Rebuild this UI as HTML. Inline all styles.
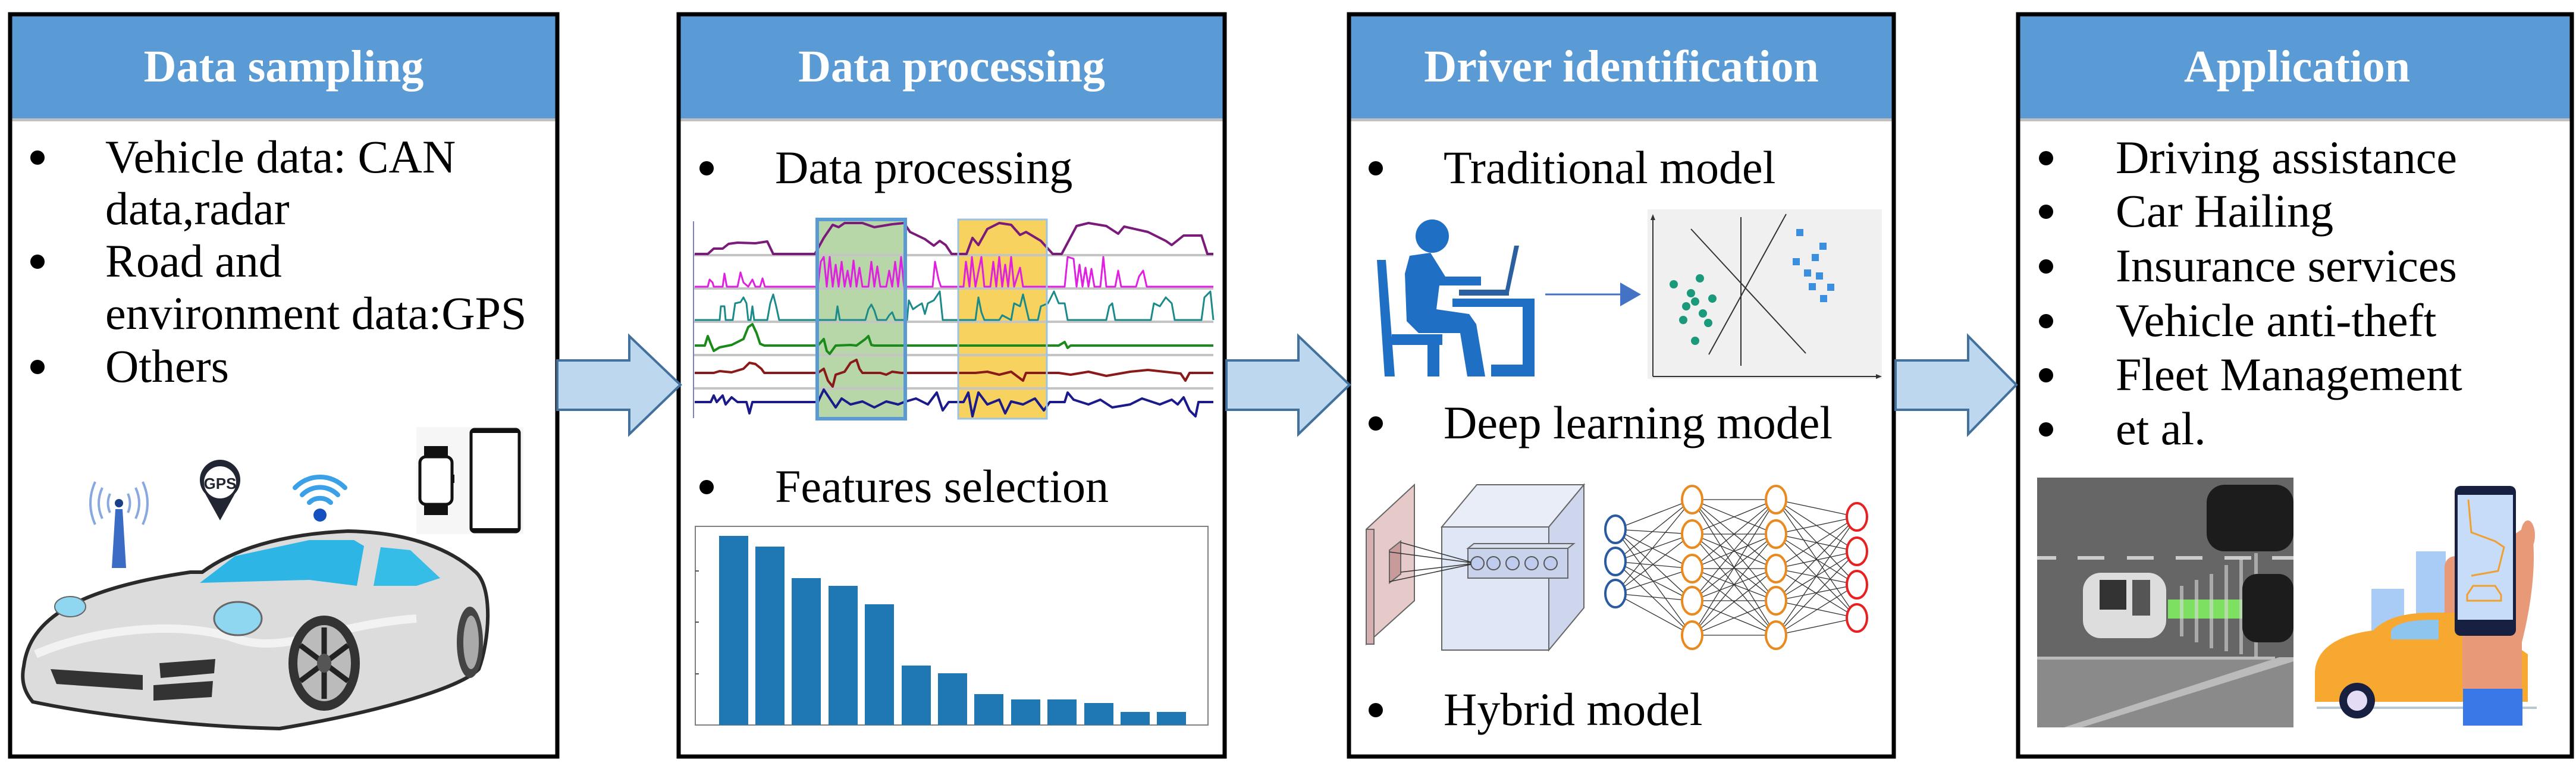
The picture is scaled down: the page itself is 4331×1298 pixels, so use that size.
<!DOCTYPE html>
<html><head><meta charset="utf-8"><style>
html,body{margin:0;padding:0;background:#fff;}
svg{display:block;}
.h{font-family:"Liberation Serif",serif;font-weight:bold;font-size:76px;fill:#fff;}
.t{font-family:"Liberation Serif",serif;font-size:78px;fill:#000;}
</style></head><body>
<svg width="4331" height="1298" viewBox="0 0 4331 1298" xmlns="http://www.w3.org/2000/svg">
<rect width="4331" height="1298" fill="#fff"/>
<!-- Boxes -->
<g>
<rect x="17" y="24" width="920" height="1248" fill="#fff"/>
<rect x="17" y="24" width="920" height="177" fill="#5b9bd5"/>
<rect x="17" y="199" width="920" height="5" fill="#c0c0c0"/>
<rect x="17" y="24" width="920" height="1248" fill="none" stroke="#000" stroke-width="7"/>
<text class="h" x="477" y="137" text-anchor="middle">Data sampling</text>

<rect x="1141" y="24" width="918" height="1248" fill="#fff"/>
<rect x="1141" y="24" width="918" height="177" fill="#5b9bd5"/>
<rect x="1141" y="199" width="918" height="5" fill="#c0c0c0"/>
<rect x="1141" y="24" width="918" height="1248" fill="none" stroke="#000" stroke-width="7"/>
<text class="h" x="1600" y="137" text-anchor="middle">Data processing</text>

<rect x="2268" y="24" width="916" height="1248" fill="#fff"/>
<rect x="2268" y="24" width="916" height="177" fill="#5b9bd5"/>
<rect x="2268" y="199" width="916" height="5" fill="#c0c0c0"/>
<rect x="2268" y="24" width="916" height="1248" fill="none" stroke="#000" stroke-width="7"/>
<text class="h" x="2726" y="137" text-anchor="middle">Driver identification</text>

<rect x="3393" y="24" width="931" height="1248" fill="#fff"/>
<rect x="3393" y="24" width="931" height="177" fill="#5b9bd5"/>
<rect x="3393" y="199" width="931" height="5" fill="#c0c0c0"/>
<rect x="3393" y="24" width="931" height="1248" fill="none" stroke="#000" stroke-width="7"/>
<text class="h" x="3862" y="137" text-anchor="middle">Application</text>
</g>

<!-- Arrows -->
<g fill="#bdd7ee" stroke="#41719c" stroke-width="4" stroke-linejoin="miter">
<polygon points="937,606 1058,606 1058,565 1144,647 1058,730 1058,689 937,689"/>
<polygon points="2062,606 2183,606 2183,565 2269,647 2183,730 2183,689 2062,689"/>
<polygon points="3187,606 3309,606 3309,565 3390,647 3309,730 3309,689 3187,689"/>
</g>

<!-- Box1 text -->
<g class="t">
<text class="t" x="177" y="290">Vehicle data: CAN</text>
<text class="t" x="177" y="377">data,radar</text>
<text class="t" x="177" y="465">Road and</text>
<text class="t" x="177" y="553">environment data:GPS</text>
<text class="t" x="177" y="642">Others</text>
</g>
<g fill="#000">
<circle cx="63" cy="265" r="12"/><circle cx="63" cy="440" r="12"/><circle cx="63" cy="617" r="12"/>
</g>

<!-- Box1 icons -->
<g>
<!-- tower -->
<polygon points="188,955 212,955 206,856 194,856" fill="#3b6cc5"/>
<circle cx="200" cy="846" r="7" fill="#1a3f8a"/>
<g fill="none" stroke="#8aa8e0" stroke-width="4">
<path d="M185,830 Q178,846 185,862"/><path d="M215,830 Q222,846 215,862"/>
<path d="M172,820 Q160,846 172,872"/><path d="M228,820 Q240,846 228,872"/>
<path d="M160,810 Q144,846 160,882"/><path d="M240,810 Q256,846 240,882"/>
</g>
<!-- GPS pin -->
<path d="M370,875 L345,830 A34,34 0 1 1 395,830 Z" fill="#222633"/>
<circle cx="370" cy="811" r="27" fill="#fff"/>
<text x="370" y="822" text-anchor="middle" font-family="Liberation Sans,sans-serif" font-weight="bold" font-size="26" fill="#222633">GPS</text>
<!-- wifi -->
<circle cx="538" cy="866" r="11" fill="#1550c0"/>
<g fill="none" stroke="#3aa0e8" stroke-width="8" stroke-linecap="round">
<path d="M520,845 A26,26 0 0 1 556,845"/>
<path d="M508,832 A42,42 0 0 1 568,832"/>
<path d="M496,820 A58,58 0 0 1 580,820"/>
</g>
<!-- watch & phone -->
<rect x="700" y="718" width="180" height="180" fill="#f6f6f6"/>
<rect x="713" y="750" width="40" height="22" fill="#111"/>
<rect x="713" y="844" width="40" height="22" fill="#111"/>
<rect x="706" y="768" width="54" height="80" rx="10" fill="#fff" stroke="#111" stroke-width="5"/>
<rect x="760" y="798" width="4" height="14" fill="#111"/>
<rect x="792" y="722" width="81" height="172" rx="6" fill="#fff" stroke="#111" stroke-width="5"/>
<rect x="792" y="722" width="81" height="6" fill="#111"/><rect x="792" y="888" width="81" height="6" fill="#111"/>
<!-- car -->
<path d="M40,1120 C50,1040 130,990 320,962 L340,962 C390,925 470,898 585,893 C690,895 760,925 800,962 C830,990 822,1080 805,1125 C770,1160 620,1200 470,1225 C320,1222 150,1200 55,1180 C38,1160 36,1140 40,1120 Z" fill="#dcdcdc" stroke="#2a2a2a" stroke-width="6"/>
<path d="M60,1100 C150,1060 300,1040 400,1075 C480,1100 560,1050 700,1040" fill="none" stroke="#f2f2f2" stroke-width="14"/>
<polygon points="336,980 395,935 520,908 595,908 612,918 600,985 520,975" fill="#2cb5e5"/>
<polygon points="640,920 690,925 740,972 700,985 628,985" fill="#35bde8"/>
<ellipse cx="400" cy="1040" rx="40" ry="28" fill="#8fd6f0" stroke="#666" stroke-width="3"/>
<ellipse cx="118" cy="1020" rx="26" ry="17" fill="#8fd6f0" stroke="#666" stroke-width="2"/>
<path d="M85,1125 L240,1135 L240,1160 L95,1150 Z" fill="#333"/>
<path d="M268,1115 L362,1108 L360,1132 L270,1140 Z" fill="#333"/>
<path d="M258,1152 L358,1145 L356,1172 L258,1178 Z" fill="#333"/>
<ellipse cx="545" cy="1115" rx="60" ry="80" fill="#333"/>
<ellipse cx="545" cy="1115" rx="45" ry="64" fill="#bbb"/>
<g stroke="#222" stroke-width="9"><line x1="545" y1="1055" x2="545" y2="1175"/><line x1="505" y1="1085" x2="585" y2="1145"/><line x1="505" y1="1145" x2="585" y2="1085"/></g>
<ellipse cx="545" cy="1115" rx="12" ry="16" fill="#555"/>
<ellipse cx="790" cy="1080" rx="22" ry="60" fill="#444"/>
<ellipse cx="792" cy="1080" rx="13" ry="45" fill="#aaa"/>
</g>

<!-- Box2 -->
<text class="t" x="1303" y="308">Data processing</text>
<text class="t" x="1303" y="844">Features selection</text>
<circle cx="1188" cy="283" r="12"/><circle cx="1188" cy="819" r="12"/>
<!-- time series -->
<g>
<rect x="1374" y="369" width="148" height="335" fill="#b8d7a8"/>
<rect x="1611" y="369" width="149" height="335" fill="#f7d25e"/>
<g stroke="#c4c4c4" stroke-width="4">
<line x1="1166" y1="429" x2="2040" y2="429"/><line x1="1166" y1="485" x2="2040" y2="485"/>
<line x1="1166" y1="541" x2="2040" y2="541"/><line x1="1166" y1="597" x2="2040" y2="597"/>
<line x1="1166" y1="653" x2="2040" y2="653"/>
</g>
<line x1="1166" y1="372" x2="1166" y2="703" stroke="#8080c0" stroke-width="2"/>
<g fill="none" stroke-width="4" stroke-linejoin="round">
<polyline stroke="#7a1a7a" points="1168,427 1190,427 1200,418 1215,418 1225,410 1240,408 1270,409 1290,406 1300,427 1370,427 1385,400 1400,378 1410,382 1420,375 1450,375 1470,382 1500,377 1520,375 1530,390 1555,402 1570,413 1580,405 1590,412 1600,427 1625,427 1635,400 1645,412 1660,385 1680,375 1700,378 1715,395 1725,390 1750,405 1770,427 1785,427 1810,380 1830,375 1860,380 1880,393 1890,381 1930,390 1960,405 1970,412 1990,396 2020,396 2030,427 2040,427"/>
<polyline stroke="#e020e0" stroke-width="3" points="1168,482 1190,482 1193,470 1198,475 1200,482 1215,482 1218,460 1222,482 1240,482 1245,458 1250,475 1258,482 1265,470 1270,482 1278,482 1282,468 1286,482 1375,482 1380,440 1385,432 1390,482 1395,432 1400,482 1405,445 1410,482 1415,440 1420,482 1425,455 1430,482 1435,438 1440,482 1445,450 1450,482 1460,482 1465,440 1470,482 1475,448 1480,482 1490,482 1495,455 1500,482 1505,440 1510,482 1515,432 1520,482 1568,482 1572,440 1578,470 1582,482 1620,482 1624,440 1630,482 1634,432 1640,482 1650,432 1655,482 1665,482 1670,440 1675,482 1680,432 1685,482 1690,445 1695,482 1700,432 1705,482 1715,450 1720,482 1790,482 1795,432 1805,435 1810,482 1815,445 1820,482 1825,450 1830,482 1835,452 1840,482 1850,482 1855,432 1860,482 1875,482 1880,455 1885,482 1910,482 1915,465 1922,455 1928,482 2040,482"/>
<polyline stroke="#1a8a8a" stroke-width="3" points="1168,538 1210,538 1212,515 1218,515 1220,538 1232,538 1236,510 1245,508 1250,500 1255,510 1258,538 1262,538 1265,515 1268,538 1290,538 1295,510 1300,495 1305,515 1310,538 1405,538 1408,515 1412,538 1455,538 1460,520 1465,512 1470,522 1475,538 1490,538 1495,530 1500,525 1505,538 1525,538 1528,505 1535,520 1542,515 1550,510 1555,528 1560,510 1570,505 1580,490 1585,538 1640,538 1645,500 1650,525 1655,538 1680,538 1685,530 1700,538 1705,510 1715,515 1720,495 1730,538 1745,538 1750,515 1762,510 1772,490 1780,510 1790,510 1795,538 1860,538 1865,515 1870,510 1875,538 1935,538 1940,510 1950,515 1960,500 1970,510 1975,538 2020,538 2025,500 2035,490 2040,538"/>
<polyline stroke="#1a8a1a" points="1168,581 1185,581 1190,565 1195,578 1200,590 1210,584 1230,580 1250,570 1258,550 1265,545 1272,560 1278,578 1285,581 1375,581 1385,570 1390,590 1395,595 1405,581 1430,580 1440,581 1455,570 1460,565 1465,580 1470,581 1520,581 1780,581 1790,575 1795,585 1800,581 2040,581"/>
<polyline stroke="#8a1a1a" points="1168,627 1200,627 1210,624 1230,626 1250,620 1260,610 1270,612 1280,620 1285,627 1375,627 1385,620 1392,640 1400,650 1405,630 1420,625 1430,610 1440,605 1445,620 1450,627 1470,627 1480,627 1490,630 1500,625 1515,627 1640,627 1660,625 1680,630 1700,625 1720,640 1725,627 1780,627 1800,630 1830,625 1860,632 1900,625 1930,622 1985,628 1993,640 2000,627 2040,627"/>
<polyline stroke="#1a1a8a" points="1168,676 1195,676 1200,665 1205,676 1215,665 1220,680 1230,668 1240,676 1255,676 1260,695 1265,676 1375,676 1385,655 1395,670 1405,685 1415,670 1430,680 1450,675 1470,685 1490,675 1510,680 1520,676 1540,670 1560,680 1575,660 1585,690 1595,676 1620,676 1628,660 1635,700 1645,660 1660,680 1680,672 1690,695 1700,675 1720,680 1740,670 1755,690 1765,676 1790,676 1795,660 1805,672 1830,680 1850,672 1870,685 1900,680 1920,670 1950,680 1970,672 1980,680 1990,668 2000,690 2010,700 2015,676 2040,676"/>
</g>
<rect x="1374" y="369" width="148" height="335" fill="none" stroke="#5b9bd5" stroke-width="6"/>
<rect x="1611" y="369" width="149" height="335" fill="none" stroke="#9cc3e6" stroke-width="3"/>
</g>
<!-- bar chart -->
<g>
<rect x="1169" y="885" width="862" height="334" fill="#fff" stroke="#808080" stroke-width="2"/>
<g fill="#1f77b4">
<rect x="1209" y="901" width="49" height="318"/>
<rect x="1270" y="919" width="49" height="300"/>
<rect x="1331" y="972" width="49" height="247"/>
<rect x="1393" y="985" width="49" height="234"/>
<rect x="1454" y="1016" width="49" height="203"/>
<rect x="1516" y="1119" width="49" height="100"/>
<rect x="1577" y="1132" width="49" height="87"/>
<rect x="1638" y="1167" width="49" height="52"/>
<rect x="1700" y="1176" width="49" height="43"/>
<rect x="1761" y="1176" width="49" height="43"/>
<rect x="1823" y="1182" width="49" height="37"/>
<rect x="1884" y="1197" width="49" height="22"/>
<rect x="1945" y="1197" width="49" height="22"/>
</g>
<g stroke="#555" stroke-width="2"><line x1="1169" y1="960" x2="1175" y2="960"/><line x1="1169" y1="1046" x2="1175" y2="1046"/><line x1="1169" y1="1133" x2="1175" y2="1133"/></g>
</g>

<!-- Box3 -->
<text class="t" x="2427" y="308">Traditional model</text>
<text class="t" x="2427" y="737">Deep learning model</text>
<text class="t" x="2427" y="1219">Hybrid model</text>
<circle cx="2313" cy="283" r="12"/><circle cx="2313" cy="712" r="12"/><circle cx="2313" cy="1194" r="12"/>
<!-- person -->
<g fill="#1f6fc5">
<circle cx="2408" cy="397" r="28"/>
<polygon points="2315,437 2330,437 2345,633 2328,633"/>
<rect x="2340" y="562" width="85" height="18"/>
<rect x="2400" y="570" width="20" height="63"/>
<polygon points="2370,430 2405,425 2430,465 2490,465 2490,480 2420,480 2415,520 2470,528 2482,545 2497,633 2467,633 2455,560 2385,560 2365,540 2362,460"/>
<rect x="2442" y="502" width="138" height="14"/>
<rect x="2560" y="502" width="20" height="131"/>
<rect x="2507" y="613" width="73" height="20"/>
<polygon points="2546,413 2554,413 2537,492 2530,492" fill="#2a5fa0"/>
<rect x="2453" y="487" width="84" height="10" fill="#2a5fa0"/>
</g>
<line x1="2598" y1="495" x2="2728" y2="495" stroke="#4472c4" stroke-width="3"/>
<polygon points="2724,475 2759,495 2724,515" fill="#4472c4"/>
<!-- scatter -->
<g>
<rect x="2770" y="352" width="394" height="285" fill="#f0f0f0"/>
<g stroke="#333" stroke-width="2" fill="none">
<line x1="2779" y1="633" x2="2779" y2="365"/><line x1="2779" y1="633" x2="3160" y2="633"/>
<line x1="2927" y1="365" x2="2927" y2="615"/>
<line x1="2843" y1="385" x2="3036" y2="594"/>
<line x1="2873" y1="596" x2="3003" y2="360"/>
</g>
<g fill="#333"><polygon points="2779,360 2775,370 2783,370"/><polygon points="3164,633 3154,629 3154,637"/></g>
<g fill="#1a9a7a">
<circle cx="2814" cy="478" r="7"/><circle cx="2858" cy="468" r="7"/><circle cx="2843" cy="493" r="7"/><circle cx="2850" cy="507" r="7"/><circle cx="2879" cy="502" r="7"/><circle cx="2835" cy="515" r="7"/><circle cx="2863" cy="527" r="7"/><circle cx="2830" cy="538" r="7"/><circle cx="2872" cy="543" r="7"/><circle cx="2850" cy="573" r="7"/>
</g>
<g fill="#3a8fe0">
<rect x="3020" y="385" width="12" height="12"/><rect x="3059" y="408" width="12" height="12"/><rect x="3046" y="427" width="12" height="12"/><rect x="3014" y="434" width="12" height="12"/><rect x="3033" y="453" width="12" height="12"/><rect x="3053" y="458" width="12" height="12"/><rect x="3041" y="476" width="12" height="12"/><rect x="3072" y="477" width="12" height="12"/><rect x="3060" y="496" width="12" height="12"/>
</g>
</g>
<!-- CNN -->
<g stroke="#666" stroke-width="2">
<polygon points="2297,890 2378,815 2378,1010 2297,1083" fill="#e6c9c9"/>
<polygon points="2297,890 2310,890 2310,1083 2297,1083" fill="#d6b0b0"/>
<polygon points="2336,925 2355,910 2355,965 2336,980" fill="#c99a9a"/>
<polygon points="2424,886 2483,815 2663,815 2604,886" fill="#e8edf8"/>
<polygon points="2604,886 2663,815 2663,1022 2604,1093" fill="#cdd6ec"/>
<rect x="2424" y="886" width="180" height="207" fill="#dfe6f5"/>
<rect x="2468" y="922" width="168" height="50" fill="#c8d2ea"/>
<polygon points="2468,922 2478,914 2646,914 2636,922" fill="#d8e0f0"/>
<g fill="#c0ccee" stroke="#555"><circle cx="2484" cy="947" r="11"/><circle cx="2511" cy="947" r="11"/><circle cx="2543" cy="947" r="11"/><circle cx="2575" cy="947" r="11"/><circle cx="2607" cy="947" r="11"/></g>
<g stroke="#333" stroke-width="1.5"><line x1="2355" y1="912" x2="2473" y2="945"/><line x1="2355" y1="962" x2="2473" y2="948"/><line x1="2336" y1="928" x2="2473" y2="946"/><line x1="2336" y1="978" x2="2473" y2="949"/></g>
</g>
<!-- NN -->
<g stroke="#333" stroke-width="1.3">
<g id="e1">
<line x1="2716" y1="890" x2="2845" y2="840"/><line x1="2716" y1="890" x2="2845" y2="898"/><line x1="2716" y1="890" x2="2845" y2="956"/><line x1="2716" y1="890" x2="2845" y2="1010"/><line x1="2716" y1="890" x2="2845" y2="1068"/>
<line x1="2716" y1="944" x2="2845" y2="840"/><line x1="2716" y1="944" x2="2845" y2="898"/><line x1="2716" y1="944" x2="2845" y2="956"/><line x1="2716" y1="944" x2="2845" y2="1010"/><line x1="2716" y1="944" x2="2845" y2="1068"/>
<line x1="2716" y1="998" x2="2845" y2="840"/><line x1="2716" y1="998" x2="2845" y2="898"/><line x1="2716" y1="998" x2="2845" y2="956"/><line x1="2716" y1="998" x2="2845" y2="1010"/><line x1="2716" y1="998" x2="2845" y2="1068"/>
</g>
<line x1="2845" y1="840" x2="2986" y2="840"/><line x1="2845" y1="840" x2="2986" y2="898"/><line x1="2845" y1="840" x2="2986" y2="956"/><line x1="2845" y1="840" x2="2986" y2="1010"/><line x1="2845" y1="840" x2="2986" y2="1068"/>
<line x1="2845" y1="898" x2="2986" y2="840"/><line x1="2845" y1="898" x2="2986" y2="898"/><line x1="2845" y1="898" x2="2986" y2="956"/><line x1="2845" y1="898" x2="2986" y2="1010"/><line x1="2845" y1="898" x2="2986" y2="1068"/>
<line x1="2845" y1="956" x2="2986" y2="840"/><line x1="2845" y1="956" x2="2986" y2="898"/><line x1="2845" y1="956" x2="2986" y2="956"/><line x1="2845" y1="956" x2="2986" y2="1010"/><line x1="2845" y1="956" x2="2986" y2="1068"/>
<line x1="2845" y1="1010" x2="2986" y2="840"/><line x1="2845" y1="1010" x2="2986" y2="898"/><line x1="2845" y1="1010" x2="2986" y2="956"/><line x1="2845" y1="1010" x2="2986" y2="1010"/><line x1="2845" y1="1010" x2="2986" y2="1068"/>
<line x1="2845" y1="1068" x2="2986" y2="840"/><line x1="2845" y1="1068" x2="2986" y2="898"/><line x1="2845" y1="1068" x2="2986" y2="956"/><line x1="2845" y1="1068" x2="2986" y2="1010"/><line x1="2845" y1="1068" x2="2986" y2="1068"/>
<line x1="2986" y1="840" x2="3122" y2="869"/><line x1="2986" y1="840" x2="3122" y2="927"/><line x1="2986" y1="840" x2="3122" y2="983"/><line x1="2986" y1="840" x2="3122" y2="1039"/>
<line x1="2986" y1="898" x2="3122" y2="869"/><line x1="2986" y1="898" x2="3122" y2="927"/><line x1="2986" y1="898" x2="3122" y2="983"/><line x1="2986" y1="898" x2="3122" y2="1039"/>
<line x1="2986" y1="956" x2="3122" y2="869"/><line x1="2986" y1="956" x2="3122" y2="927"/><line x1="2986" y1="956" x2="3122" y2="983"/><line x1="2986" y1="956" x2="3122" y2="1039"/>
<line x1="2986" y1="1010" x2="3122" y2="869"/><line x1="2986" y1="1010" x2="3122" y2="927"/><line x1="2986" y1="1010" x2="3122" y2="983"/><line x1="2986" y1="1010" x2="3122" y2="1039"/>
<line x1="2986" y1="1068" x2="3122" y2="869"/><line x1="2986" y1="1068" x2="3122" y2="927"/><line x1="2986" y1="1068" x2="3122" y2="983"/><line x1="2986" y1="1068" x2="3122" y2="1039"/>
</g>
<g fill="#fff" stroke-width="4">
<g stroke="#2a5aa0"><ellipse cx="2716" cy="890" rx="17" ry="23"/><ellipse cx="2716" cy="944" rx="17" ry="23"/><ellipse cx="2716" cy="998" rx="17" ry="23"/></g>
<g stroke="#e88a20"><ellipse cx="2845" cy="840" rx="17" ry="23"/><ellipse cx="2845" cy="898" rx="17" ry="23"/><ellipse cx="2845" cy="956" rx="17" ry="23"/><ellipse cx="2845" cy="1010" rx="17" ry="23"/><ellipse cx="2845" cy="1068" rx="17" ry="23"/>
<ellipse cx="2986" cy="840" rx="17" ry="23"/><ellipse cx="2986" cy="898" rx="17" ry="23"/><ellipse cx="2986" cy="956" rx="17" ry="23"/><ellipse cx="2986" cy="1010" rx="17" ry="23"/><ellipse cx="2986" cy="1068" rx="17" ry="23"/></g>
<g stroke="#e82020"><ellipse cx="3122" cy="869" rx="17" ry="23"/><ellipse cx="3122" cy="927" rx="17" ry="23"/><ellipse cx="3122" cy="983" rx="17" ry="23"/><ellipse cx="3122" cy="1039" rx="17" ry="23"/></g>
</g>

<!-- Box4 -->
<text class="t" x="3557" y="291">Driving assistance</text>
<text class="t" x="3557" y="381">Car Hailing</text>
<text class="t" x="3557" y="473">Insurance services</text>
<text class="t" x="3557" y="565">Vehicle anti-theft</text>
<text class="t" x="3557" y="656">Fleet Management</text>
<text class="t" x="3557" y="747">et al.</text>
<g fill="#000"><circle cx="3440" cy="266" r="12"/><circle cx="3440" cy="356" r="12"/><circle cx="3440" cy="448" r="12"/><circle cx="3440" cy="540" r="12"/><circle cx="3440" cy="631" r="12"/><circle cx="3440" cy="722" r="12"/></g>
<!-- road photo -->
<g>
<rect x="3425" y="803" width="431" height="420" fill="#666"/>
<polygon points="3425,1107 3856,1107 3856,1223 3425,1223" fill="#8a8a8a"/>
<polygon points="3470,1223 3832,1105 3856,1105 3856,1112 3500,1223" fill="#bbb"/>
<rect x="3425" y="1104" width="400" height="5" fill="#bbb"/>
<g fill="#ccc"><rect x="3425" y="935" width="32" height="6"/><rect x="3493" y="935" width="45" height="6"/><rect x="3576" y="935" width="45" height="6"/><rect x="3658" y="935" width="45" height="6"/><rect x="3740" y="935" width="45" height="6"/><rect x="3820" y="935" width="36" height="6"/></g>
<rect x="3645" y="1008" width="125" height="32" fill="#7ee060"/>
<g fill="#d8d8d8" opacity="0.6"><rect x="3665" y="985" width="6" height="85"/><rect x="3690" y="975" width="6" height="105"/><rect x="3715" y="965" width="6" height="125"/><rect x="3740" y="950" width="6" height="145"/><rect x="3765" y="940" width="6" height="160"/><rect x="3790" y="930" width="6" height="175"/></g>
<rect x="3502" y="963" width="140" height="110" rx="30" fill="#ddd"/>
<rect x="3530" y="975" width="45" height="50" fill="#333"/>
<rect x="3585" y="975" width="30" height="60" fill="#555"/>
<rect x="3770" y="965" width="86" height="115" rx="25" fill="#1c1c1c"/>
<rect x="3710" y="815" width="146" height="112" rx="30" fill="#1c1c1c"/>
</g>
<!-- taxi hailing -->
<g>
<g fill="#a8ccf5"><rect x="3987" y="990" width="55" height="100"/><rect x="4062" y="927" width="50" height="163"/></g>
<rect x="4110" y="935" width="40" height="120" rx="18" fill="#e89a78"/>
<path d="M3892,1130 C3895,1080 3950,1065 3990,1060 C4010,1040 4040,1030 4090,1030 L4150,1030 L4250,1100 L4250,1180 L3892,1180 Z" fill="#f7a830"/>
<path d="M4020,1060 C4030,1045 4060,1042 4100,1042 L4100,1075 L4020,1075 Z" fill="#8ec5ee"/>
<rect x="3895" y="1188" width="370" height="4" fill="#b8c8d0"/>
<circle cx="3963" cy="1178" r="30" fill="#172040"/><circle cx="3963" cy="1178" r="17" fill="#e4dcf5"/>
<path d="M4140,1070 L4140,1160 L4240,1160 L4240,1080 C4260,1000 4265,930 4255,880 L4225,900 Z" fill="#e89a78"/>
<rect x="4127" y="817" width="103" height="252" rx="10" fill="#172040"/>
<rect x="4132" y="832" width="93" height="210" fill="#c6dcf8"/>
<polyline points="4150,840 4155,895 4195,910 4210,920 4200,960 4155,968" fill="none" stroke="#f0a030" stroke-width="3"/>
<path d="M4148,1000 L4158,985 L4195,985 L4205,1000 L4205,1010 L4148,1010 Z" fill="none" stroke="#f0a030" stroke-width="3"/>
<ellipse cx="4250" cy="900" rx="12" ry="25" fill="#e89a78"/>
<rect x="4141" y="1158" width="100" height="62" fill="#3a78e8"/>
</g>
</svg>
</body></html>
